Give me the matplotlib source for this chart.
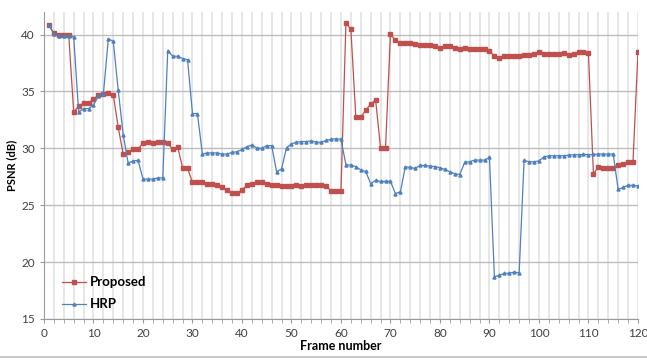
import matplotlib
matplotlib.use('Agg')
import matplotlib.pyplot as plt
from matplotlib.lines import Line2D

plt.rcParams['font.family'] = ['Lato', 'DejaVu Sans']

# Frame numbers 1..120
frames = list(range(1, 121))

# PSNR of the proposed method (dB)
proposed = [
    40.85, 40.1, 40.0, 39.97, 39.97, 33.2, 33.7, 34.0, 34.0, 34.3,
    34.7, 34.8, 34.9, 34.7, 31.85, 29.5, 29.65, 29.9, 29.95, 30.44,
    30.53, 30.47, 30.53, 30.53, 30.47, 29.9, 30.15, 28.3, 28.26, 27.0,
    27.0, 27.03, 26.9, 26.9, 26.8, 26.6, 26.3, 26.05, 26.05, 26.35,
    26.76, 26.88, 27.06, 27.06, 26.88, 26.8, 26.8, 26.65, 26.65, 26.65,
    26.8, 26.65, 26.82, 26.82, 26.8, 26.8, 26.7, 26.26, 26.26, 26.26,
    41.0, 40.5, 32.74, 32.74, 33.35, 33.9, 34.26, 30.03, 30.03, 40.06,
    39.5, 39.26, 39.24, 39.24, 39.18, 39.1, 39.1, 39.06, 38.97, 38.8,
    38.97, 39.03, 38.8, 38.74, 38.8, 38.74, 38.76, 38.7, 38.7, 38.6,
    38.1, 37.97, 38.1, 38.1, 38.1, 38.15, 38.24, 38.24, 38.26, 38.44,
    38.3, 38.3, 38.26, 38.3, 38.35, 38.24, 38.32, 38.44, 38.44, 38.35,
    27.76, 28.35, 28.3, 28.3, 28.3, 28.56, 28.62, 28.8, 28.8, 38.44,
]

# PSNR of HRP (dB)
hrp = [
    40.85, 40.05, 39.9, 39.9, 39.9, 39.8, 33.2, 33.5, 33.5, 33.8,
    34.6, 34.8, 39.65, 39.4, 35.1, 31.2, 28.7, 28.9, 28.95, 27.3,
    27.3, 27.3, 27.4, 27.4, 38.6, 38.1, 38.1, 37.9, 37.8, 33.06,
    33.06, 29.5, 29.6, 29.6, 29.6, 29.5, 29.5, 29.65, 29.7, 29.9,
    30.15, 30.3, 30.03, 30.0, 30.24, 30.24, 27.94, 28.2, 30.06, 30.4,
    30.53, 30.6, 30.6, 30.65, 30.56, 30.53, 30.7, 30.8, 30.85, 30.8,
    28.56, 28.53, 28.4, 28.1, 27.97, 26.9, 27.18, 27.1, 27.1, 27.1,
    26.03, 26.18, 28.38, 28.32, 28.24, 28.5, 28.5, 28.44, 28.4, 28.3,
    28.15, 27.94, 27.76, 27.7, 28.76, 28.82, 28.97, 28.97, 28.97, 29.2,
    18.7, 18.85, 19.0, 19.03, 19.12, 19.06, 28.94, 28.82, 28.82, 28.9,
    29.24, 29.35, 29.35, 29.35, 29.35, 29.4, 29.44, 29.44, 29.47, 29.44,
    29.47, 29.5, 29.5, 29.5, 29.5, 26.4, 26.56, 26.76, 26.76, 26.7,
]

x_ticks = list(range(0, 121, 10))
y_ticks = [15, 20, 25, 30, 35, 40]

red = '#C0504D'
blue = '#4F81BD'

fig = plt.figure(figsize=(6.47, 3.6), dpi=100)
ax = fig.add_axes([0.068, 0.114, 0.918, 0.853])

# gridlines: light vertical every 2 frames, gray horizontal every 5 dB
ax.set_xticks(range(0, 121, 2), minor=True)
ax.grid(True, which='minor', axis='x', color='#e3e3e3', linewidth=1.2)
ax.grid(True, which='major', axis='x', color='#e3e3e3', linewidth=1.2)
ax.grid(True, which='major', axis='y', color='#bdbdbd', linewidth=1.0)
ax.set_axisbelow(True)

ax.plot(frames, proposed, color=red, marker='s', markersize=2.4,
        linewidth=0.9, label='Proposed')
ax.plot(frames, hrp, color=blue, marker='^', markersize=2.2,
        linewidth=0.9, label='HRP')

ax.set_xlim(0, 120)
ax.set_ylim(15, 42)
ax.set_xticks(x_ticks)
ax.set_yticks(y_ticks)

for side in ['top', 'right']:
    ax.spines[side].set_visible(False)
for side in ['left', 'bottom']:
    ax.spines[side].set_color('#9a9a9a')
ax.tick_params(axis='both', which='both', colors='#9a9a9a', labelcolor='#404040',
               labelsize=8.5, length=3, direction='out')

ax.set_xlabel('Frame number', fontsize=9, fontweight='bold', labelpad=1)
ax.set_ylabel('PSNR (dB)', fontsize=8, fontweight='bold', labelpad=3)

leg = ax.legend(loc='lower left', bbox_to_anchor=(0.01, -0.01), frameon=False,
                prop={'weight': 'bold', 'size': 9.5}, handlelength=1.8,
                labelspacing=0.75, handletextpad=0.3)

# outer chart border at the bottom
fig.add_artist(Line2D([0, 1], [0.008, 0.008], color='#bfbfbf', linewidth=1.2))

fig.savefig('out.png', dpi=100)
